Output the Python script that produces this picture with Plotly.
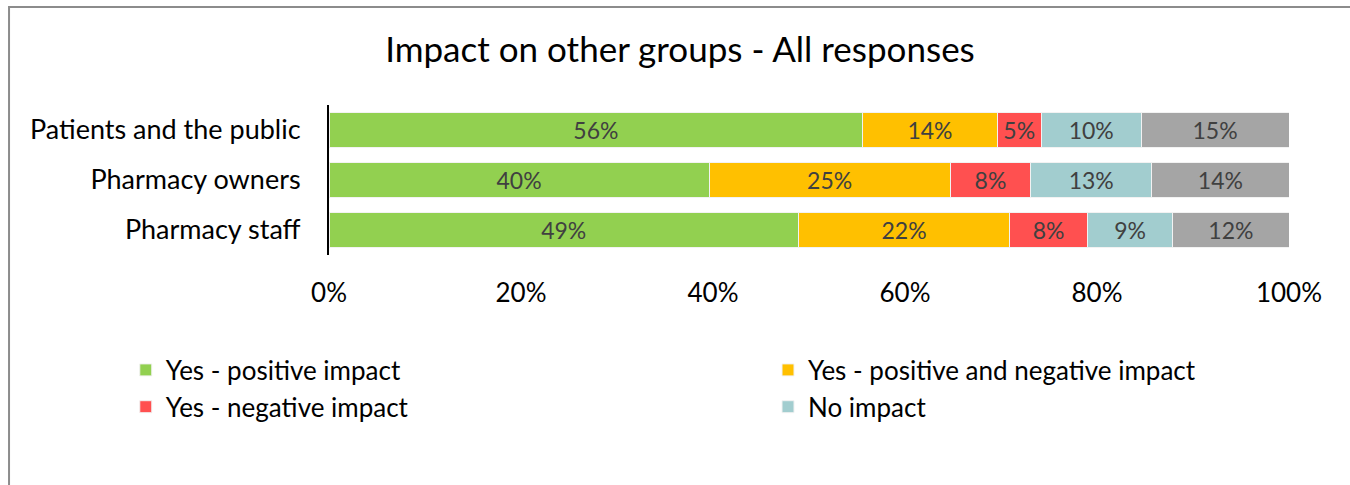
import plotly.graph_objects as go

categories = ["Patients and the public", "Pharmacy owners", "Pharmacy staff"]
series_names = ["Yes - positive impact", "Yes - positive and negative impact",
                "Yes - negative impact", "No impact", "Don't know"]
positive = [55.6, 39.6, 48.9]
pos_neg = [14.0, 25.1, 22.0]
negative = [4.6, 8.4, 8.1]
no_impact = [10.4, 12.6, 8.9]
dont_know = [15.4, 14.3, 12.1]
tick_vals = [0, 20, 40, 60, 80, 100]
tick_text = ["0%", "20%", "40%", "60%", "80%", "100%"]

colors = ["#92D050", "#FFC000", "#FF5050", "#A2CDCF", "#A5A5A5"]
values = [positive, pos_neg, negative, no_impact, dont_know]
legend_ids = ["legend", "legend2", "legend", "legend2", "legend"]

FONT = "Lato"
fig = go.Figure()
for i, (name, vals) in enumerate(zip(series_names, values)):
    fig.add_trace(go.Bar(
        y=categories, x=vals, name=name, orientation="h",
        marker=dict(color=colors[i], line=dict(color="#F2F2F2", width=1)),
        texttemplate="%{x:.0f}%", textposition="inside", insidetextanchor="middle",
        textfont=dict(family=FONT, size=23, color="#404040"),
        showlegend=(i < 4), legend=legend_ids[i],
    ))

leg_common = dict(orientation="v", yanchor="top", traceorder="normal",
                  font=dict(family=FONT, size=26, color="black"),
                  itemwidth=30, bgcolor="rgba(0,0,0,0)")
fig.update_layout(
    width=1350, height=485,
    barmode="stack", bargap=0.3,
    plot_bgcolor="white", paper_bgcolor="white",
    margin=dict(l=329, r=61, t=105, b=230),
    title=dict(text="Impact on other groups - All responses", x=0.3656, xref="paper",
               xanchor="center", y=0.897, yanchor="middle",
               font=dict(family=FONT, size=35, color="black")),
    font=dict(family=FONT, color="black"),
    uniformtext=dict(mode="show", minsize=10),
    legend=dict(x=-0.2117, y=-0.61, xanchor="left", **leg_common),
    legend2=dict(x=0.4573, y=-0.61, xanchor="left", **leg_common),
)
fig.update_xaxes(range=[0, 100], tickvals=tick_vals, ticktext=tick_text,
                 showgrid=False, zeroline=False, showline=False,
                 tickfont=dict(family=FONT, size=26, color="black"),
                 ticklabelstandoff=20, fixedrange=True)
fig.update_yaxes(autorange="reversed", showgrid=False, showline=True,
                 linecolor="black", linewidth=2,
                 tickfont=dict(family=FONT, size=27, color="black"),
                 ticklabelstandoff=21, fixedrange=True)

# outer chart border (partly outside the visible canvas)
fig.add_shape(type="rect", xref="paper", yref="paper",
              x0=-0.3333, x1=1.2, y0=-1.7, y1=1.6533,
              line=dict(color="#8C8C8C", width=2), layer="below")

fig.write_html("out.html", config={"displayModeBar": False},
               post_script="document.body.style.margin='0';")
